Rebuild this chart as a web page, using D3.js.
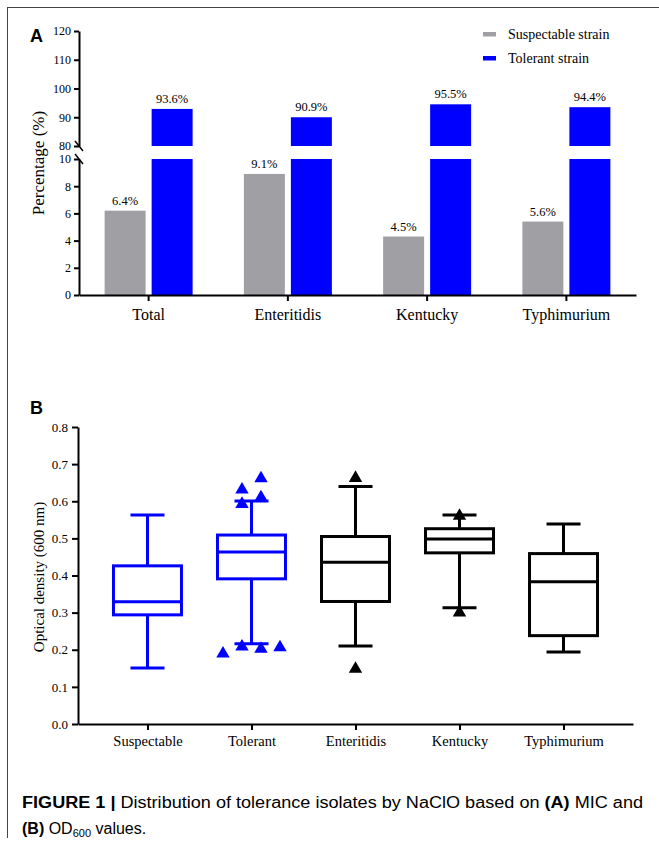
<!DOCTYPE html>
<html>
<head>
<meta charset="utf-8">
<script src="https://cdn.jsdelivr.net/npm/d3@7"></script>
<style>
	body { margin: 0; background: #fff; }
	svg { display: block; }
	text { font-family: "Liberation Serif", "Times New Roman", serif; fill: #000; }
</style>
</head>
<body>
<svg id="fig" width="659" height="844"></svg>
<script>
// ---- panel A data (bar heights, labels as printed)
const serotypes = ["Total", "Enteritidis", "Kentucky", "Typhimurium"]
const susceptibleBar = [6.2, 8.9, 4.3, 5.4]
const tolerantBar = [92.9, 90.0, 94.5, 93.5]
const susceptibleLabel = ["6.4%", "9.1%", "4.5%", "5.6%"]
const tolerantLabel = ["93.6%", "90.9%", "95.5%", "94.4%"]
const lowerTicks = [0, 2, 4, 6, 8, 10]
const upperTicks = [80, 90, 100, 110, 120]
const seriesNames = ["Suspectable strain", "Tolerant strain"]
const seriesColors = ["#a09fa4", "#0000ff"]

// ---- panel B data (box stats)
const odGroups = ["Suspectable", "Tolerant", "Enteritidis", "Kentucky", "Typhimurium"]
const odLow = [0.151, 0.216, 0.210, 0.313, 0.194]
const odQ1 = [0.294, 0.391, 0.330, 0.461, 0.238]
const odMedian = [0.329, 0.463, 0.436, 0.498, 0.383]
const odQ3 = [0.426, 0.509, 0.505, 0.526, 0.459]
const odHigh = [0.563, 0.601, 0.640, 0.563, 0.539]
const odOutliers = [[], [0.192, 0.211, 0.205, 0.209, 0.595, 0.613, 0.634, 0.664], [0.665, 0.151], [0.563, 0.303], []]
const odColors = ["#0000ff", "#0000ff", "#000", "#000", "#000"]
const odTicks = [0, 0.1, 0.2, 0.3, 0.4, 0.5, 0.6, 0.7, 0.8]

const svg = d3.select("#fig")

// figure frame (top + left rule)
svg.append("line").attr("x1", 7).attr("x2", 659).attr("y1", 7.5).attr("y2", 7.5).attr("stroke", "#444")
svg.append("line").attr("x1", 7.5).attr("x2", 7.5).attr("y1", 7).attr("y2", 838).attr("stroke", "#444")

function styleAxis(g, fontSize) {
	g.selectAll("path, line").attr("stroke", "#000").attr("stroke-width", 2)
	g.selectAll("text").attr("font-size", fontSize).attr("font-family", "Liberation Serif").attr("fill", "#000")
}

// ================= panel A =================
const xA = d3.scaleBand().domain(serotypes).range([79, 636])
const xSeries = d3.scaleBand().domain([0, 1]).range([-44, 44]).paddingInner(0.128)
const yLow = d3.scaleLinear().domain([0, 10]).range([295, 159])
const yHigh = d3.scaleLinear().domain([80, 120]).range([146, 31])

const panelA = svg.append("g")

var barRows = serotypes.map((s, i) => ({ name: s, values: [susceptibleBar[i], tolerantBar[i]], labels: [susceptibleLabel[i], tolerantLabel[i]] }))

barRows.forEach(row => {
	let cx = xA(row.name) + xA.bandwidth() / 2
	row.values.forEach((v, k) => {
		let x0 = cx + xSeries(k)
		let w = xSeries.bandwidth()
		let top
		if (v <= 10) {
			panelA.append("rect").attr("x", x0).attr("width", w)
				.attr("y", yLow(v)).attr("height", yLow(0) - yLow(v)).attr("fill", seriesColors[k])
			top = yLow(v)
		} else {
			//broken bar: full lower segment + the part above the break
			panelA.append("rect").attr("x", x0).attr("width", w)
				.attr("y", yLow(10)).attr("height", yLow(0) - yLow(10)).attr("fill", seriesColors[k])
			panelA.append("rect").attr("x", x0).attr("width", w)
				.attr("y", yHigh(v)).attr("height", yHigh(80) - yHigh(v)).attr("fill", seriesColors[k])
			top = yHigh(v)
		}
		panelA.append("text").attr("x", x0 + w / 2).attr("y", top - 6)
			.attr("text-anchor", "middle").attr("font-size", 12.5).text(row.labels[k])
	})
})

panelA.append("g").attr("transform", "translate(79,0)")
	.call(d3.axisLeft(yLow).tickValues(lowerTicks).tickSize(5).tickSizeOuter(0).tickPadding(3))
	.call(g => styleAxis(g, 12))
panelA.append("g").attr("transform", "translate(79,0)")
	.call(d3.axisLeft(yHigh).tickValues(upperTicks).tickSize(5).tickSizeOuter(0).tickPadding(3))
	.call(g => styleAxis(g, 12))

// break marks on the y axis
;[yHigh(80), yLow(10)].forEach(y => {
	panelA.append("line").attr("x1", 75).attr("x2", 83).attr("y1", y - 5).attr("y2", y + 5)
		.attr("stroke", "#000").attr("stroke-width", 1.5)
})

panelA.append("g").attr("transform", "translate(0,295)")
	.call(d3.axisBottom(xA).tickSize(6).tickSizeOuter(0).tickPadding(8))
	.call(g => styleAxis(g, 16))

panelA.append("text").attr("transform", "translate(44,163) rotate(-90)")
	.attr("text-anchor", "middle").attr("font-size", 17).text("Percentage (%)")

panelA.append("text").attr("x", 30).attr("y", 42)
	.style("font-family", "Liberation Sans, Arial, sans-serif").attr("font-weight", "bold").attr("font-size", 18).text("A")

var legend = panelA.selectAll("g.legend").data(seriesNames).join("g").classed("legend", true)
	.attr("transform", (d, i) => `translate(483,${34 + i * 24})`)
legend.append("rect").attr("x", 0).attr("y", -2).attr("width", 13).attr("height", 4.5).attr("fill", (d, i) => seriesColors[i])
legend.append("text").attr("x", 25).attr("y", 5).attr("font-size", 14).text(d => d)

// ================= panel B =================
const xB = d3.scalePoint().domain(odGroups).range([78, 633]).padding(0.668)
const yB = d3.scaleLinear().domain([0, 0.8]).range([724, 427])
const boxW = 68, capW = 34

const panelB = svg.append("g")

panelB.append("g").attr("transform", "translate(78,0)")
	.call(d3.axisLeft(yB).tickValues(odTicks).tickFormat(d3.format(".1f")).tickSize(6).tickSizeOuter(0).tickPadding(4))
	.call(g => styleAxis(g, 13))
panelB.append("g").attr("transform", "translate(0,724)")
	.call(d3.axisBottom(xB).tickSize(6).tickSizeOuter(0).tickPadding(6))
	.call(g => styleAxis(g, 14.5))

var boxes = odGroups.map((name, i) => ({
	name, low: odLow[i], q1: odQ1[i], median: odMedian[i], q3: odQ3[i], high: odHigh[i],
	outliers: odOutliers[i], color: odColors[i]
}))

//outliers close in value share a row and get spread sideways, like prism does
function spreadOutliers(values) {
	let rows = []
	values.forEach(v => {
		let row = rows.find(r => Math.abs(v - r[0]) <= 0.035)
		if (row) row.push(v)
		else rows.push([v])
	})
	let out = []
	rows.forEach(r => r.forEach((v, k) => out.push({ v, dx: (k - (r.length - 1) / 2) * 19 })))
	return out
}

boxes.forEach(b => {
	let cx = xB(b.name)
	let g = panelB.append("g").attr("stroke", b.color).attr("stroke-width", 3).attr("fill", "none")
	g.append("line").attr("x1", cx).attr("x2", cx).attr("y1", yB(b.high)).attr("y2", yB(b.q3))
	g.append("line").attr("x1", cx).attr("x2", cx).attr("y1", yB(b.q1)).attr("y2", yB(b.low))
	g.append("line").attr("x1", cx - capW / 2).attr("x2", cx + capW / 2).attr("y1", yB(b.high)).attr("y2", yB(b.high))
	g.append("line").attr("x1", cx - capW / 2).attr("x2", cx + capW / 2).attr("y1", yB(b.low)).attr("y2", yB(b.low))
	g.append("rect").attr("x", cx - boxW / 2).attr("width", boxW)
		.attr("y", yB(b.q3)).attr("height", yB(b.q1) - yB(b.q3))
	g.append("line").attr("x1", cx - boxW / 2).attr("x2", cx + boxW / 2).attr("y1", yB(b.median)).attr("y2", yB(b.median))

	panelB.selectAll(null).data(spreadOutliers(b.outliers)).join("path")
		.attr("d", d3.symbol(d3.symbolTriangle, 78))
		.attr("fill", b.color)
		.attr("transform", d => `translate(${cx + d.dx},${yB(d.v) + 1})`)
})

panelB.append("text").attr("transform", "translate(44,577) rotate(-90)")
	.attr("text-anchor", "middle").attr("font-size", 15).text("Optical density (600 nm)")

panelB.append("text").attr("x", 30).attr("y", 414)
	.style("font-family", "Liberation Sans, Arial, sans-serif").attr("font-weight", "bold").attr("font-size", 18).text("B")

// ================= caption =================
const cap = svg.append("g").style("font-family", "Liberation Sans, Arial, sans-serif").attr("fill", "#222")
var line1 = cap.append("text").attr("x", 22).attr("y", 808).attr("font-size", 16)
	.style("font-family", "Liberation Sans, Arial, sans-serif").attr("fill", "#222")
	.attr("textLength", 621).attr("lengthAdjust", "spacingAndGlyphs")
line1.append("tspan").attr("font-weight", "bold").text("FIGURE 1 | ")
line1.append("tspan").text("Distribution of tolerance isolates by NaClO based on ")
line1.append("tspan").attr("font-weight", "bold").text("(A)")
line1.append("tspan").text(" MIC and")

var line2 = cap.append("text").attr("x", 22).attr("y", 834).attr("font-size", 16)
	.style("font-family", "Liberation Sans, Arial, sans-serif").attr("fill", "#222")
line2.append("tspan").attr("font-weight", "bold").text("(B)")
line2.append("tspan").text(" OD")
line2.append("tspan").attr("font-size", 11).attr("dy", 3).text("600")
line2.append("tspan").attr("dy", -3).text(" values.")
</script>
</body>
</html>
